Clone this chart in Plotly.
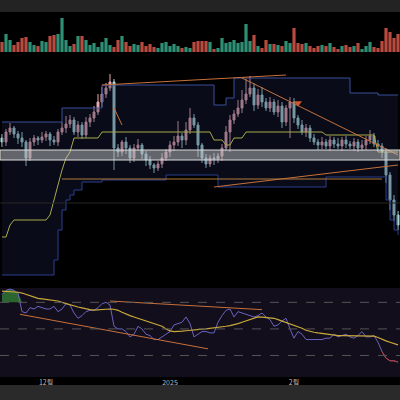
import plotly.graph_objects as go

# price values (arbitrary units, no axis labels on the chart)
close = [158, 168, 172, 166, 162, 158, 142, 158, 162, 160, 163, 166, 160, 158, 168, 172, 176, 180, 168, 175,
         165, 178, 182, 188, 198, 206, 212, 218, 152, 148, 158, 152, 142, 152, 155, 146, 140, 135, 132, 136,
         142, 148, 155, 158, 164, 160, 170, 182, 175, 155, 142, 136, 142, 141, 144, 152, 168, 180, 186, 192,
         200, 206, 212, 195, 205, 198, 192, 198, 188, 194, 178, 192, 198, 182, 175, 168, 172, 162, 158, 155,
         158, 154, 160, 156, 154, 160, 156, 154, 158, 152, 155, 160, 164, 156, 154, 148, 125, 100, 85, 75]
wick_hi = [4, 3, 5, 2, 3, 6, 2, 4, 3, 2, 5, 3, 2, 4, 3, 6, 8, 5, 3, 4,
           3, 5, 4, 6, 8, 7, 5, 8, 3, 4, 2, 5, 3, 4, 6, 2, 3, 4, 2, 3,
           5, 3, 4, 6, 15, 3, 8, 10, 4, 3, 2, 4, 3, 5, 3, 4, 6, 5, 4, 8,
           10, 15, 12, 5, 6, 8, 4, 5, 3, 6, 4, 3, 5, 4, 3, 5, 4, 3, 4, 3,
           5, 3, 4, 3, 6, 3, 4, 3, 4, 3, 5, 4, 6, 3, 4, 3, 4, 3, 5, 4]
wick_lo = [5, 4, 3, 4, 6, 5, 8, 3, 4, 5, 3, 4, 6, 3, 4, 3, 5, 4, 3, 5,
           4, 3, 5, 4, 3, 5, 4, 3, 22, 5, 4, 6, 5, 4, 3, 5, 6, 4, 5, 3,
           4, 3, 5, 6, 4, 8, 5, 4, 3, 12, 5, 4, 3, 6, 4, 5, 3, 20, 4, 3,
           5, 4, 3, 6, 4, 5, 3, 4, 3, 5, 6, 4, 30, 5, 4, 3, 5, 4, 3, 5,
           4, 3, 5, 4, 3, 5, 4, 3, 5, 4, 3, 5, 4, 3, 5, 6, 8, 10, 6, 5]
volume = [10, 18, 12, 7, 10, 14, 15, 10, 7, 6, 11, 10, 16, 17, 18, 34, 12, 6, 8, 16,
          16, 12, 7, 9, 5, 10, 14, 7, 5, 12, 16, 10, 6, 8, 7, 10, 6, 8, 5, 4,
          9, 10, 6, 8, 6, 4, 5, 4, 10, 11, 11, 11, 10, 3, 4, 14, 9, 10, 12, 9,
          10, 28, 11, 17, 6, 4, 12, 8, 8, 7, 6, 11, 9, 24, 9, 8, 9, 6, 4, 6,
          7, 6, 9, 5, 3, 6, 7, 5, 6, 9, 3, 6, 10, 5, 4, 11, 24, 20, 14, 18]
upper = [178] * 15 + [192] * 10 + [215] * 28 + [195] * 3 + [202] * 2 + [222] * 29 + [207] * 7 + [205] * 6
lower = [25] * 13 + [40, 70, 90, 100, 105, 110, 110] + [118] * 5 + [120] * 16 + [125] * 13 + [113] * 27 + \
        [123] * 15 + [100, 80, 70, 65]
base = [63, 63, 75] + [80] * 9 + [85, 100, 115, 130, 142, 148] + [162] * 7 + [168] * 28 + [160] * 3 + \
       [155] * 2 + [162] * 3 + [168] * 20 + [165] * 13 + [148] * 6
rsi = [76, 79, 80, 79, 77, 63, 62, 66, 65, 67, 66, 65, 65, 67, 63, 65, 69, 68, 62, 58,
       60, 63, 64, 64, 66, 69, 70, 68, 52, 50, 50, 48, 44, 46, 52, 50, 46, 45, 42, 42,
       44, 46, 48, 53, 54, 55, 59, 54, 44, 46, 48, 48, 47, 47, 55, 60, 64, 65, 59, 63,
       62, 61, 60, 59, 60, 62, 59, 57, 52, 53, 56, 58, 50, 43, 48, 46, 42, 42, 42, 42,
       42, 43, 43, 46, 44, 45, 46, 44, 43, 45, 48, 44, 44, 45, 40, 33, 28, 26, 26, 25]
rsi_ma = [78.5, 78.4, 78.2, 78, 77.6, 77, 76, 75, 74, 73, 72.6, 72.2, 71.8, 71.4, 71, 70, 69, 68, 67.2, 66.5,
          65.8, 65, 64.5, 64.2, 64.5, 64.8, 65, 65, 64.8, 64, 62.5, 61, 60, 59, 58, 57, 56, 55, 54, 53.5,
          52, 50, 48.5, 48, 48, 48.3, 48.6, 49, 49.3, 49.6, 49.8, 50, 50.3, 50.6, 51, 51.5, 52, 52.5, 53, 54,
          55, 56, 57, 58, 59, 58.8, 58.5, 58.2, 58, 57, 56, 55, 54, 53, 52, 50.5, 49, 48, 47.5, 47,
          46.5, 46, 45.5, 45, 45, 45, 45, 45, 45, 45, 45, 45, 45, 44.5, 43.5, 42, 41, 40, 39, 38]
# trendlines: (index0, value0, index1, value1)
price_trend = [(25, 215, 71, 225), (60, 222, 99, 145), (53, 113, 99, 135), (28, 192, 30, 175)]
rsi_trend = [(4.5, 61, 51.5, 35), (27, 71, 65, 64.5)]
tick_pos = [11, 42, 73]
tick_text = ["12월", "2025", "2월"]

n = len(close)
idx = list(range(n))
opens = [162] + close[:-1]
highs = [max(o, c) + w for o, c, w in zip(opens, close, wick_hi)]
lows = [min(o, c) - w for o, c, w in zip(opens, close, wick_lo)]
vcol = ["#2f8f75" if c >= o else "#b84a3f" for o, c in zip(opens, close)]

fig = go.Figure()
fig.add_trace(go.Bar(x=idx, y=volume, marker_color=vcol, marker_line_width=0, yaxis="y", width=0.8))

fig.add_trace(go.Scatter(x=idx, y=lower, mode="lines", line=dict(color="#2b3f8f", width=1, shape="hv"), yaxis="y2"))
fig.add_trace(go.Scatter(x=idx, y=upper, mode="lines", line=dict(color="#3a4f9a", width=1, shape="hv"), yaxis="y2",
                         fill="tonexty", fillcolor="rgba(25,35,70,0.35)"))
fig.add_trace(go.Scatter(x=idx, y=base, mode="lines", line=dict(color="#a8a84a", width=1), yaxis="y2"))
fig.add_trace(go.Candlestick(x=idx, open=opens, high=highs, low=lows, close=close, yaxis="y2",
                             increasing=dict(line=dict(color="#e8a9b0", width=1), fillcolor="#e8a9b0"),
                             decreasing=dict(line=dict(color="#a9d8d8", width=1), fillcolor="#a9d8d8"),
                             whiskerwidth=0))
fig.add_trace(go.Scatter(x=[74], y=[197], mode="markers", yaxis="y2",
                         marker=dict(symbol="triangle-down", color="#d0562e", size=7)))
for a, b, c, d in price_trend:
    fig.add_trace(go.Scatter(x=[a, c], y=[b, d], mode="lines", yaxis="y2", line=dict(color="#c8703a", width=1)))

fig.add_trace(go.Scatter(x=idx[:6], y=[70] * 6, mode="lines", line=dict(width=0), yaxis="y3"))
fig.add_trace(go.Scatter(x=idx[:6], y=[max(r, 70) for r in rsi[:6]], mode="lines", line=dict(width=0),
                         fill="tonexty", fillcolor="rgba(60,160,60,0.6)", yaxis="y3"))
fig.add_trace(go.Scatter(x=idx, y=rsi, mode="lines", line=dict(color="#6a64c0", width=1), yaxis="y3"))
fig.add_trace(go.Scatter(x=idx[95:], y=rsi[95:], mode="lines", line=dict(color="#c0392b", width=1), yaxis="y3"))
fig.add_trace(go.Scatter(x=idx, y=rsi_ma, mode="lines", line=dict(color="#c9a93a", width=1.2), yaxis="y3"))
for a, b, c, d in rsi_trend:
    fig.add_trace(go.Scatter(x=[a, c], y=[b, d], mode="lines", yaxis="y3", line=dict(color="#c8703a", width=1)))

shapes = [
    dict(type="rect", xref="paper", yref="paper", x0=0, x1=1, y0=1 - 12 / 400, y1=1, fillcolor="#232323", line_width=0, layer="below"),
    dict(type="rect", xref="paper", yref="paper", x0=0, x1=1, y0=0, y1=15 / 400, fillcolor="#2a2a2a", line_width=0),
    dict(type="rect", xref="paper", yref="paper", x0=0, x1=1, y0=0.0575, y1=0.28, fillcolor="#120e1c", line_width=0, layer="below"),
    dict(type="rect", xref="paper", yref="y2", x0=0, x1=1, y0=140, y1=150, fillcolor="rgba(210,210,210,0.45)", line=dict(color="#ddd", width=1)),
    dict(type="line", xref="x", yref="y2", x0=15, x1=95, y0=121, y1=121, line=dict(color="#b07a3a", width=1)),
    dict(type="line", xref="paper", yref="y2", x0=0, x1=1, y0=97, y1=97, line=dict(color="#262626", width=1)),
]
for v in [70, 50, 30]:
    shapes.append(dict(type="line", xref="paper", yref="y3", x0=0, x1=1, y0=v, y1=v,
                       line=dict(color="#555", width=1, dash="dash")))

fig.update_layout(
    width=400, height=400, margin=dict(l=0, r=0, t=0, b=0, autoexpand=False),
    paper_bgcolor="#000", plot_bgcolor="#000", showlegend=False, shapes=shapes,
    font=dict(family="Noto Sans CJK KR", color="#bbb", size=7),
    xaxis=dict(range=[-0.5, n - 0.5], showgrid=False, zeroline=False, rangeslider=dict(visible=False),
               tickvals=tick_pos, ticktext=tick_text, ticks="", anchor="free", position=0.0575),
    yaxis=dict(domain=[0.87, 0.9625], range=[0, 37], visible=False),
    yaxis2=dict(domain=[0.295, 0.85], range=[18, 240], visible=False),
    yaxis3=dict(domain=[0.0575, 0.28], range=[13.8, 80.8], visible=False),
    bargap=0.2,
)
fig.write_html("out.html", config={"displayModeBar": False},
               post_script="document.body.style.margin='0';document.body.style.background='#000';")
